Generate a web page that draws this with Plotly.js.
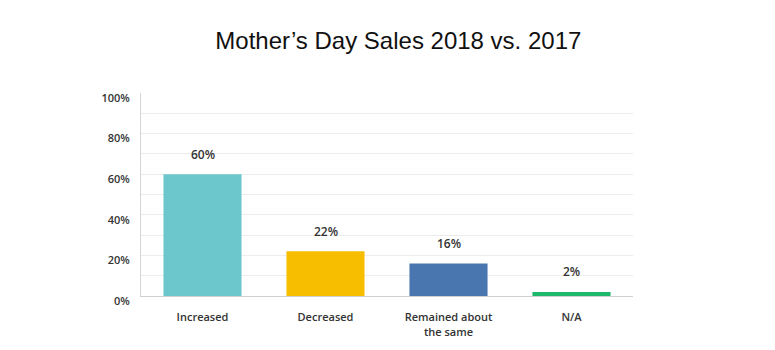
<!DOCTYPE html>
<html>
<head>
<meta charset="utf-8">
<script src="https://cdn.plot.ly/plotly-3.0.1.min.js"></script>
<style>html,body{margin:0;padding:0;background:#fff;}#chart{width:775px;height:350px;}</style>
</head>
<body>
<div id="chart"></div>
<script>
const categories = ["Increased", "Decreased", "Remained about<br>the same", "N/A"];
const values = [60, 22, 16, 2];
const valueLabels = ["60%", "22%", "16%", "2%"];
const barColors = ["#6CC7CC", "#F7BE00", "#4A76B0", "#1DB86A"];
const tickValues = [0, 20, 40, 60, 80, 100];
const tickLabels = ["0%", "20%", "40%", "60%", "80%", "100%"];

const trace = {
  type: "bar",
  x: categories,
  y: values,
  marker: {color: barColors},
  width: 0.635,
  hoverinfo: "none"
};

const annotations = categories.map((c, i) => ({
  x: c, y: values[i], xref: "x", yref: "y",
  text: valueLabels[i], showarrow: false,
  yanchor: "middle", yshift: 20,
  font: {family: "Open Sans, sans-serif", size: 12, color: "#333", weight: 600}
}));

const layout = {
  width: 775, height: 350,
  margin: {l: 141, r: 142, t: 93, b: 54},
  paper_bgcolor: "#fff", plot_bgcolor: "#fff",
  title: {text: "Mother’s Day Sales 2018 vs. 2017", x: 0.514, xanchor: "center", y: 0.885, yanchor: "middle",
          font: {family: "Liberation Sans, Arial, sans-serif", size: 24, color: "#111"}},
  showlegend: false,
  bargap: 0.365,
  xaxis: {
    showgrid: false, zeroline: false,
    showline: true, linecolor: "#cfcfcf", linewidth: 1,
    ticks: "", tickfont: {family: "Open Sans, sans-serif", size: 11, color: "#333", weight: 600},
    ticklabelstandoff: 11
  },
  yaxis: {
    range: [0, 100], fixedrange: true,
    tickvals: tickValues, ticktext: tickLabels,
    showgrid: true, gridcolor: "#ececec", gridwidth: 1,
    minor: {dtick: 10, showgrid: true, gridcolor: "#ececec", gridwidth: 1},
    zeroline: false, showline: true, linecolor: "#d6d6d6", linewidth: 1,
    ticks: "", ticklabelstandoff: 8, ticklabelshift: 5,
    tickfont: {family: "Open Sans, sans-serif", size: 11, color: "#333", weight: 600}
  },
  annotations: annotations
};

Plotly.newPlot("chart", [trace], layout, {staticPlot: true, displayModeBar: false});
</script>
</body>
</html>
